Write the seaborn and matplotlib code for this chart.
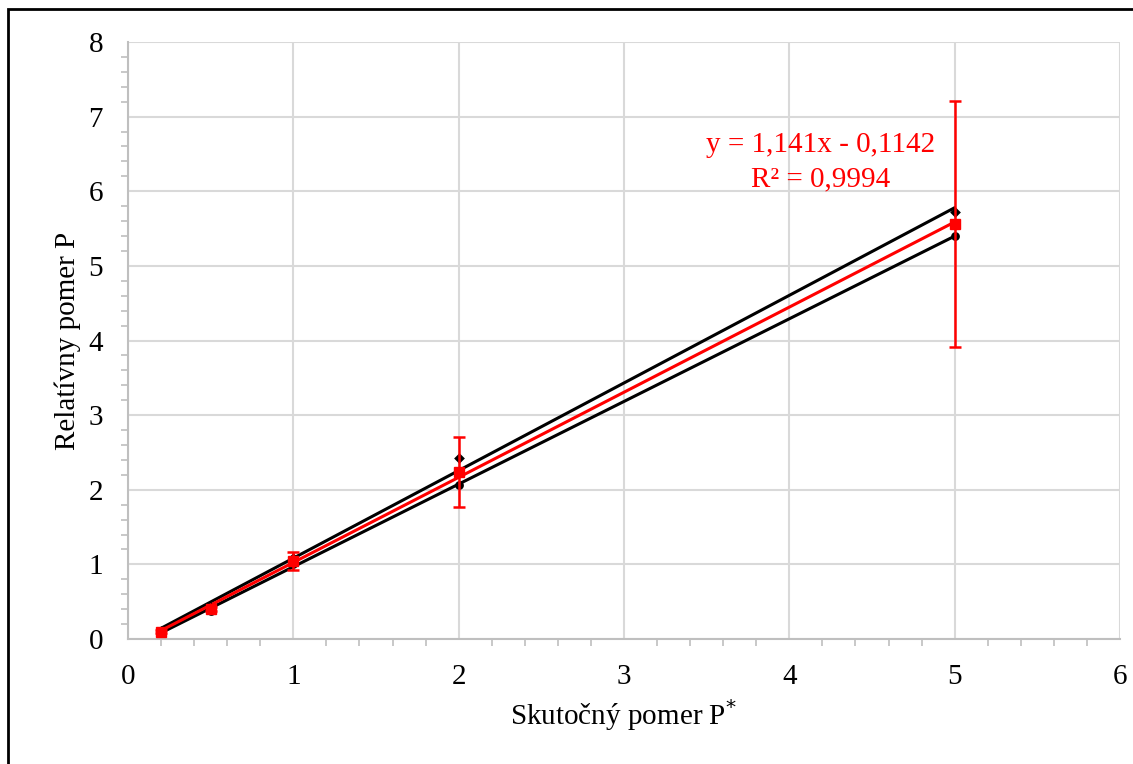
import matplotlib
matplotlib.use("Agg")
import matplotlib.pyplot as plt
from matplotlib.patches import Rectangle
from matplotlib.ticker import MultipleLocator
import numpy as np
import pandas as pd
import seaborn as sns

# skutočný pomer P*
x_true = [0.2, 0.5, 1.0, 2.0, 5.0]
# measured series (two runs) and their mean with error
y_run_a = [0.11, 0.42, 1.08, 2.43, 5.72]
y_run_b = [0.09, 0.38, 1.01, 2.06, 5.40]
y_mean = [0.10, 0.40, 1.05, 2.24, 5.56]
y_err = [0.02, 0.03, 0.12, 0.47, 1.65]

equation_text = "y = 1,141x - 0,1142\nR² = 0,9994"
x_ticks = [0, 1, 2, 3, 4, 5, 6]
y_ticks = [0, 1, 2, 3, 4, 5, 6, 7, 8]

RED = "#ff0000"
GRID = "#d9d9d9"
AXIS = "#bfbfbf"
FS = 21

sns.set_style("white")
plt.rcParams["font.family"] = ["Liberation Serif", "DejaVu Serif"]
plt.rcParams["font.size"] = FS
plt.rcParams["text.color"] = "black"
plt.rcParams["axes.labelcolor"] = "black"

df = pd.DataFrame({"x": x_true, "a": y_run_a, "b": y_run_b, "m": y_mean, "e": y_err})

fig = plt.figure(figsize=(11.33, 7.64), dpi=100)
ax = fig.add_axes([0.113, 0.1636, 0.8755, 0.7814])

# linear trendlines
sns.regplot(data=df, x="x", y="a", scatter=False, ci=None, truncate=True,
            line_kws={"color": "black", "lw": 2.2, "zorder": 3}, ax=ax)
sns.regplot(data=df, x="x", y="b", scatter=False, ci=None, truncate=True,
            line_kws={"color": "black", "lw": 2.2, "zorder": 3}, ax=ax)
sns.regplot(data=df, x="x", y="m", scatter=False, ci=None, truncate=True,
            line_kws={"color": RED, "lw": 2.2, "zorder": 4}, ax=ax)

# markers
sns.scatterplot(data=df, x="x", y="a", marker="D", s=30, color="black",
                edgecolor="black", linewidth=0, zorder=5, ax=ax)
sns.scatterplot(data=df, x="x", y="b", marker="o", s=40, color="black",
                edgecolor="black", linewidth=0, zorder=5, ax=ax)
ax.errorbar(df["x"], df["m"], yerr=df["e"], fmt="s", color=RED, ms=6.5,
            ecolor=RED, elinewidth=1.8, capsize=4.5, capthick=1.8, zorder=6)

ax.text(4.19, 6.39, equation_text, color=RED, ha="center", va="center",
        fontsize=FS, linespacing=1.4)

ax.set_xlim(0, 6)
ax.set_ylim(0, 8)
ax.set_xticks(x_ticks)
ax.set_yticks(y_ticks)
ax.xaxis.set_minor_locator(MultipleLocator(0.2))
ax.yaxis.set_minor_locator(MultipleLocator(0.2))
ax.grid(True, which="major", color=GRID, lw=1.5)
ax.set_axisbelow(True)
for side in ["top", "right"]:
    ax.spines[side].set_visible(False)
for side in ["left", "bottom"]:
    ax.spines[side].set_color(AXIS)
    ax.spines[side].set_linewidth(1.5)
ax.tick_params(which="major", direction="out", length=7, width=1.5,
               color=AXIS, labelcolor="black", labelsize=FS, pad=11)
ax.tick_params(which="minor", direction="out", length=5, width=1.2,
               color=AXIS, left=True, bottom=True)

ax.set_xlabel("Skutočný pomer P$^{*}$", fontsize=FS, labelpad=5)
ax.set_ylabel("Relatívny pomer P", fontsize=FS, labelpad=5)

# outer chart frame
fig.patches.append(Rectangle((8 / 1133, -0.2), 1.2, 1.2 - 9 / 764,
                             transform=fig.transFigure, fill=False,
                             edgecolor="black", lw=2, zorder=0))

fig.savefig("out.png", dpi=100, facecolor="white")
